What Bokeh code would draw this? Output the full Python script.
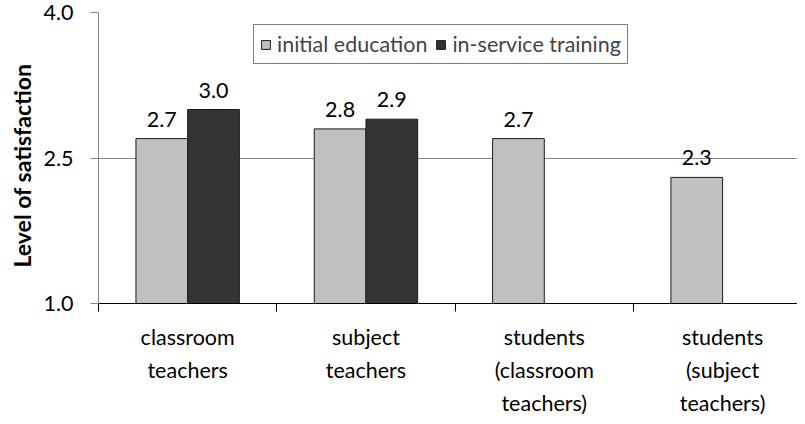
import math
from bokeh.plotting import figure
from bokeh.core.properties import value
from bokeh.models import (ColumnDataSource, Range1d, FixedTicker, PrintfTickFormatter,
                          Legend, LegendItem, LabelSet, Title)
from bokeh.embed import file_html
from bokeh.resources import INLINE

# ---- data ----
categories = ["classroom\nteachers", "subject\nteachers",
              "students\n(classroom\nteachers)", "students\n(subject\nteachers)"]
series_names = ["initial education", "in-service training"]
initial_education = [2.7, 2.8, 2.7, 2.3]
in_service_training = [3.0, 2.9, float("nan"), float("nan")]
y_ticks = [1.0, 2.5, 4.0]
y_axis_title = "Level of satisfaction"

# ---- style ----
FONT = "Lato"
FS = "21.5px"
GRID = "#868686"
LIGHT = "#C0C0C0"
DARK = "#333333"

n = len(categories)
centers = [i + 0.5 for i in range(n)]
bar_w = 0.29
off = 0.145

p = figure(width=797, height=422, output_backend="svg", toolbar_location=None,
           x_range=Range1d(0, 3.92), y_range=Range1d(y_ticks[0], y_ticks[-1]),
           min_border_left=98, min_border_right=0, min_border_top=12,
           min_border_bottom=119)
p.outline_line_color = None
p.background_fill_color = "white"

# y axis
p.yaxis.ticker = FixedTicker(ticks=y_ticks)
p.yaxis.formatter = PrintfTickFormatter(format="%.1f")
p.yaxis.axis_line_color = GRID
p.yaxis.major_tick_line_color = GRID
p.yaxis.major_tick_in = 0
p.yaxis.major_tick_out = 8
p.yaxis.minor_tick_line_color = None
p.yaxis.major_label_standoff = 17
p.yaxis.major_label_text_font = FONT
p.yaxis.major_label_text_font_size = FS
p.yaxis.major_label_text_color = "black"
p.yaxis.major_label_text_line_height = 1.0

# y axis title as a left-side title
p.add_layout(Title(text=y_axis_title, align="left", offset=36, standoff=10,
                   text_font=FONT, text_font_style="bold",
                   text_font_size="23px", text_color="black"), "left")

# grid
p.xgrid.visible = False
p.ygrid.ticker = FixedTicker(ticks=y_ticks)
p.ygrid.grid_line_color = GRID
p.ygrid.grid_line_width = 1

# x axis: labels at centres, tick marks at boundaries
p.xaxis.ticker = FixedTicker(ticks=centers, minor_ticks=list(range(n + 1)))
p.xaxis.major_label_overrides = {c: lab for c, lab in zip(centers, categories)}
p.xaxis.major_tick_line_color = None
p.xaxis.major_tick_in = 0
p.xaxis.major_tick_out = 0
p.xaxis.minor_tick_in = 0
p.xaxis.minor_tick_out = 8
p.xaxis.minor_tick_line_color = "black"
p.xaxis.axis_line_color = "black"
p.xaxis.axis_line_width = 1.2
p.xaxis.major_label_standoff = 12
p.xaxis.major_label_text_font = FONT
p.xaxis.major_label_text_font_size = FS
p.xaxis.major_label_text_color = "black"
p.xaxis.major_label_text_line_height = 1.28

# bars
src = ColumnDataSource(dict(
    x1=[c - off for c in centers], x2=[c + off for c in centers],
    ie=initial_education, ist=in_service_training))
r1 = p.vbar(x="x1", top="ie", bottom=y_ticks[0], width=bar_w, source=src,
            fill_color=LIGHT, line_color="#1a1a1a", line_width=1)
r2 = p.vbar(x="x2", top="ist", bottom=y_ticks[0], width=bar_w, source=src,
            fill_color=DARK, line_color="#1a1a1a", line_width=1)

# value labels
lab1 = ColumnDataSource(dict(x=[c - off for c in centers], y=initial_education,
                             t=[f"{v:.1f}" for v in initial_education]))
xs2 = [c + off for c, v in zip(centers, in_service_training) if not math.isnan(v)]
ys2 = [v for v in in_service_training if not math.isnan(v)]
lab2 = ColumnDataSource(dict(x=xs2, y=ys2, t=[f"{v:.1f}" for v in ys2]))
for s in (lab1, lab2):
    p.add_layout(LabelSet(x="x", y="y", text="t", source=s, y_offset=12,
                          text_align="center", text_baseline="alphabetic",
                          text_font=value(FONT), text_font_size=value(FS),
                          text_color="black"))

# legend
legend = Legend(items=[LegendItem(label=series_names[0], renderers=[r1]),
                       LegendItem(label=series_names[1], renderers=[r2])],
                location=(155, 239), orientation="horizontal",
                border_line_color="black", border_line_width=1,
                label_text_font=FONT, label_text_font_size=FS,
                glyph_width=11, glyph_height=11, label_standoff=6,
                spacing=8, padding=6, margin=0, label_height=20)
p.add_layout(legend)

open("out.html", "w").write(file_html(p, INLINE))
